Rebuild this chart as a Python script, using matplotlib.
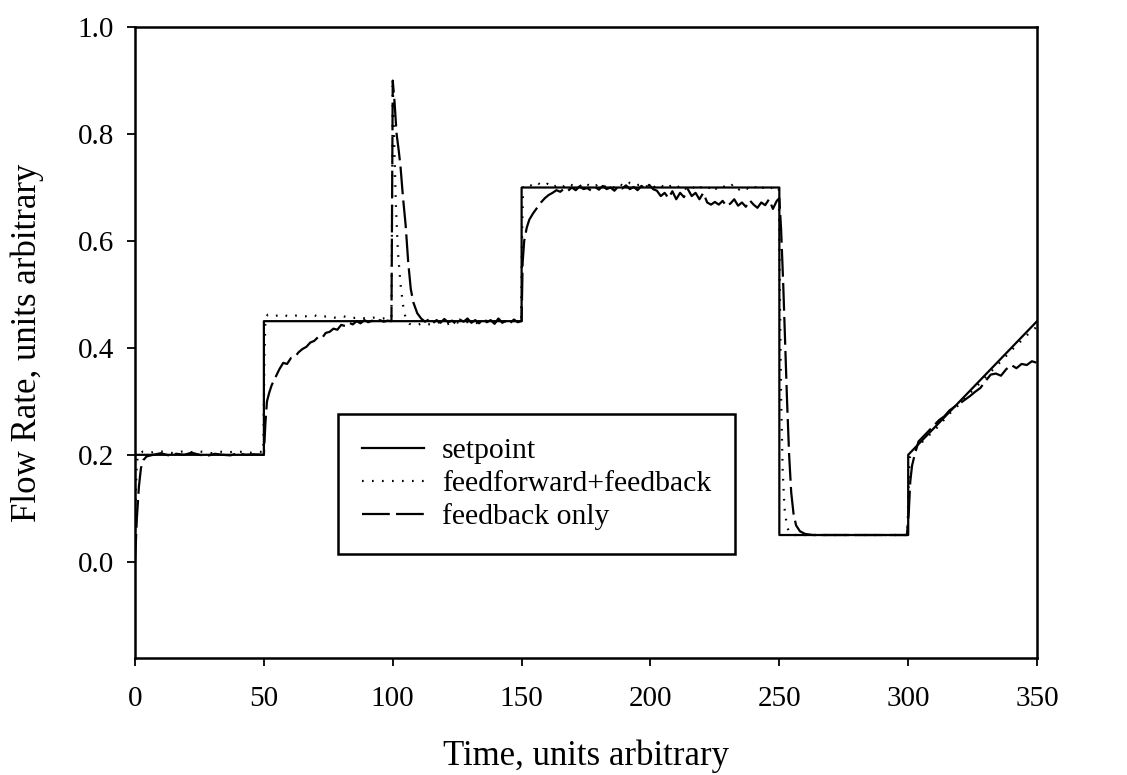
import matplotlib
matplotlib.use("Agg")
import matplotlib.pyplot as plt

plt.rcParams['font.family'] = ['Liberation Serif', 'DejaVu Serif']
plt.rcParams['lines.scale_dashes'] = False

# setpoint profile
t_sp = [0, 50, 50, 150, 150, 250, 250, 300, 300, 350]
y_sp = [0.2, 0.2, 0.45, 0.45, 0.7, 0.7, 0.05, 0.05, 0.2, 0.45]

# feedforward + feedback response
t_ff = [0, 0.3, 0.7, 1.2, 3, 6, 9, 12, 15, 18, 21, 24, 27, 30, 33, 36, 39, 42, 45, 48, 49.8,
        50.2, 50.6, 51.5, 54, 57, 60, 63, 66, 69, 72, 75, 78, 81, 84, 87, 90, 93, 96, 99.5,
        100, 100.6, 101.2, 102, 103, 104, 105, 106.5, 109, 112, 115, 118, 121, 124, 127, 130,
        133, 136, 139, 142, 145, 148, 149.8,
        150.2, 150.6, 152, 154, 156, 158, 160, 162, 164, 166, 168, 170, 172, 174, 176, 178, 180,
        182, 184, 186, 188, 190, 192, 194, 196, 198, 200, 202, 204, 206, 208, 210, 212, 214,
        216, 218, 220, 222, 224, 226, 228, 230, 232, 234, 236, 238, 240, 242, 244, 246, 248, 249.8,
        250.2, 250.7, 251.3, 252, 253, 254, 256, 270, 285, 299.7,
        300.2, 300.6, 302, 305, 308, 311, 314, 317, 320, 323, 326, 329, 332, 335, 338, 341, 344,
        347, 350]
y_ff = [0.04, 0.13, 0.185, 0.2, 0.206, 0.204, 0.207, 0.205, 0.203, 0.206, 0.204, 0.207, 0.205,
        0.203, 0.206, 0.204, 0.207, 0.205, 0.204, 0.206, 0.205,
        0.38, 0.455, 0.462, 0.459, 0.463, 0.458, 0.461, 0.459, 0.462, 0.457, 0.46, 0.456, 0.459,
        0.455, 0.458, 0.454, 0.457, 0.455, 0.456,
        0.89, 0.78, 0.67, 0.58, 0.52, 0.48, 0.455, 0.445, 0.442, 0.447, 0.443, 0.448, 0.444,
        0.449, 0.445, 0.45, 0.446, 0.451, 0.447, 0.452, 0.448, 0.451, 0.45,
        0.62, 0.70, 0.708, 0.703, 0.71, 0.702, 0.707, 0.699, 0.706, 0.701, 0.709, 0.703, 0.707,
        0.698, 0.705, 0.7, 0.708, 0.702, 0.706, 0.699, 0.707, 0.701, 0.709, 0.703, 0.706, 0.7,
        0.708, 0.699, 0.705, 0.697, 0.704, 0.698, 0.706, 0.696, 0.703, 0.694, 0.702, 0.696,
        0.705, 0.695, 0.703, 0.698, 0.706, 0.695, 0.702, 0.697, 0.704, 0.694, 0.701, 0.696,
        0.703, 0.698,
        0.5, 0.3, 0.17, 0.1, 0.065, 0.054, 0.05, 0.05, 0.05, 0.05,
        0.15, 0.195, 0.205, 0.222, 0.236, 0.25, 0.266, 0.282, 0.295, 0.311, 0.325, 0.34, 0.355,
        0.37, 0.385, 0.4, 0.414, 0.428, 0.44]

# feedback only response
t_fb = [0, 0.7, 1.5, 2.3, 3.2, 4.5, 7, 10, 13, 16, 19, 22, 25, 28, 31, 34, 37, 40, 43, 46, 49.5,
        50, 50.6, 51.2, 52, 53, 54.5, 56, 57.5, 59, 60.5, 62, 63.5, 65, 66.5, 68, 69.5, 71, 72.5,
        74, 75.5, 77, 78.5, 80, 81.5, 83, 84.5, 86, 87.5, 89, 90.5, 92, 93.5, 95, 96.5, 98, 99.5,
        100, 100.7, 101.5, 102.3, 103, 104, 105, 106, 107, 108, 109.5, 111, 112.5, 114, 115.5,
        117, 118.5, 120, 121.5, 123, 124.5, 126, 127.5, 129, 130.5, 132, 133.5, 135, 136.5, 138,
        139.5, 141, 142.5, 144, 145.5, 147, 148.5, 149.7,
        150, 150.4, 151, 152, 153, 154.5, 156, 157.5, 159, 160.5, 162, 163.5, 165, 166.5, 168,
        169.5, 171, 172.5, 174, 175.5, 177, 178.5, 180, 181.5, 183, 184.5, 186, 187.5, 189,
        190.5, 192, 193.5, 195, 196.5, 198, 199.5, 201, 202.5, 204, 205.5, 207, 208.5, 210,
        211.5, 213, 214.5, 216, 217.5, 219, 220.5, 222, 223.5, 225, 226.5, 228, 229.5, 231,
        232.5, 234, 235.5, 237, 238.5, 240, 241.5, 243, 244.5, 246, 247.5, 249, 250,
        250.7, 251.5, 252.3, 253, 253.8, 254.6, 255.5, 256.5, 258, 260, 263, 270, 280, 290, 299.5,
        300.2, 300.8, 301.5, 302.5, 304, 306, 308, 310, 312, 314, 316, 318, 320, 322, 324, 326,
        328, 330, 332, 334, 336, 338, 340, 342, 344, 346, 348, 350]
y_fb = [0.0, 0.08, 0.14, 0.175, 0.19, 0.197, 0.2, 0.203, 0.199, 0.202, 0.2, 0.204, 0.2, 0.198,
        0.202, 0.2, 0.199, 0.203, 0.2, 0.201, 0.2,
        0.2, 0.26, 0.30, 0.315, 0.33, 0.345, 0.36, 0.372, 0.37, 0.381, 0.383, 0.392, 0.398,
        0.402, 0.41, 0.413, 0.42, 0.418, 0.428, 0.43, 0.436, 0.434, 0.443, 0.441, 0.447, 0.444,
        0.45, 0.446, 0.452, 0.448, 0.451, 0.447, 0.452, 0.449, 0.451, 0.45,
        0.9, 0.86, 0.80, 0.77, 0.74, 0.68, 0.63, 0.56, 0.51, 0.485, 0.465, 0.455, 0.449, 0.453,
        0.446, 0.452, 0.447, 0.454, 0.448, 0.451, 0.445, 0.453, 0.449, 0.455, 0.447, 0.452,
        0.446, 0.454, 0.448, 0.452, 0.445, 0.455, 0.447, 0.451, 0.446, 0.453, 0.448, 0.45,
        0.45, 0.56, 0.60, 0.625, 0.64, 0.652, 0.662, 0.672, 0.68, 0.686, 0.69, 0.695, 0.692,
        0.698, 0.694, 0.7, 0.695, 0.702, 0.697, 0.699, 0.694, 0.701, 0.696, 0.703, 0.697, 0.7,
        0.694, 0.702, 0.698, 0.704, 0.697, 0.701, 0.695, 0.703, 0.698, 0.705, 0.697, 0.694,
        0.684, 0.69, 0.68, 0.693, 0.678, 0.69, 0.682, 0.697, 0.684, 0.69, 0.678, 0.69, 0.672,
        0.668, 0.673, 0.668, 0.675, 0.665, 0.67, 0.678, 0.666, 0.672, 0.664, 0.676, 0.668,
        0.662, 0.672, 0.667, 0.678, 0.66, 0.675, 0.68,
        0.62, 0.52, 0.40, 0.3, 0.2, 0.13, 0.09, 0.068, 0.057, 0.052, 0.05, 0.05, 0.05, 0.05, 0.05,
        0.09, 0.15, 0.18, 0.2, 0.225, 0.235, 0.245, 0.255, 0.265, 0.272, 0.283, 0.29, 0.296,
        0.303, 0.31, 0.318, 0.325, 0.338, 0.35, 0.352, 0.348, 0.36, 0.368, 0.362, 0.37, 0.368,
        0.375, 0.372]

x_ticks = [0, 50, 100, 150, 200, 250, 300, 350]
y_ticks = [0.0, 0.2, 0.4, 0.6, 0.8, 1.0]

fig = plt.figure(figsize=(11.27, 7.75), dpi=100)
ax = fig.add_axes([0.1198, 0.151, 0.8004, 0.814])

ax.plot(t_sp, y_sp, color='black', lw=1.6, label='setpoint')
ax.plot(t_ff, y_ff, color='black', lw=1.6, dashes=(1.2, 6), label='feedforward+feedback')
ax.plot(t_fb, y_fb, color='black', lw=1.6, dashes=(20, 4.5), label='feedback only')

ax.set_xlim(0, 350)
ax.set_ylim(-0.18, 1.0)
ax.set_xticks(x_ticks)
ax.set_yticks(y_ticks)
ax.set_yticklabels([f'{v:.1f}' for v in y_ticks])
ax.tick_params(axis='both', direction='out', length=6, width=1.3, labelsize=21,
               top=False, right=False)
ax.tick_params(axis='x', pad=14)
ax.tick_params(axis='y', pad=9)
for s in ax.spines.values():
    s.set_linewidth(1.8)

ax.set_xlabel('Time, units arbitrary', fontsize=25, labelpad=20)
ax.set_ylabel('Flow Rate, units arbitrary', fontsize=25, labelpad=24)

# legend box sits in the lower middle of the axes
leg = ax.legend(loc='upper left', bbox_to_anchor=(0.225, 0.387), fontsize=21.4,
                frameon=True, fancybox=False, edgecolor='black', framealpha=1,
                handlelength=2.1, handletextpad=0.6, labelspacing=0.2,
                borderpad=0.8, borderaxespad=0)
leg.get_frame().set_linewidth(1.8)

fig.savefig('out.png', dpi=100)
